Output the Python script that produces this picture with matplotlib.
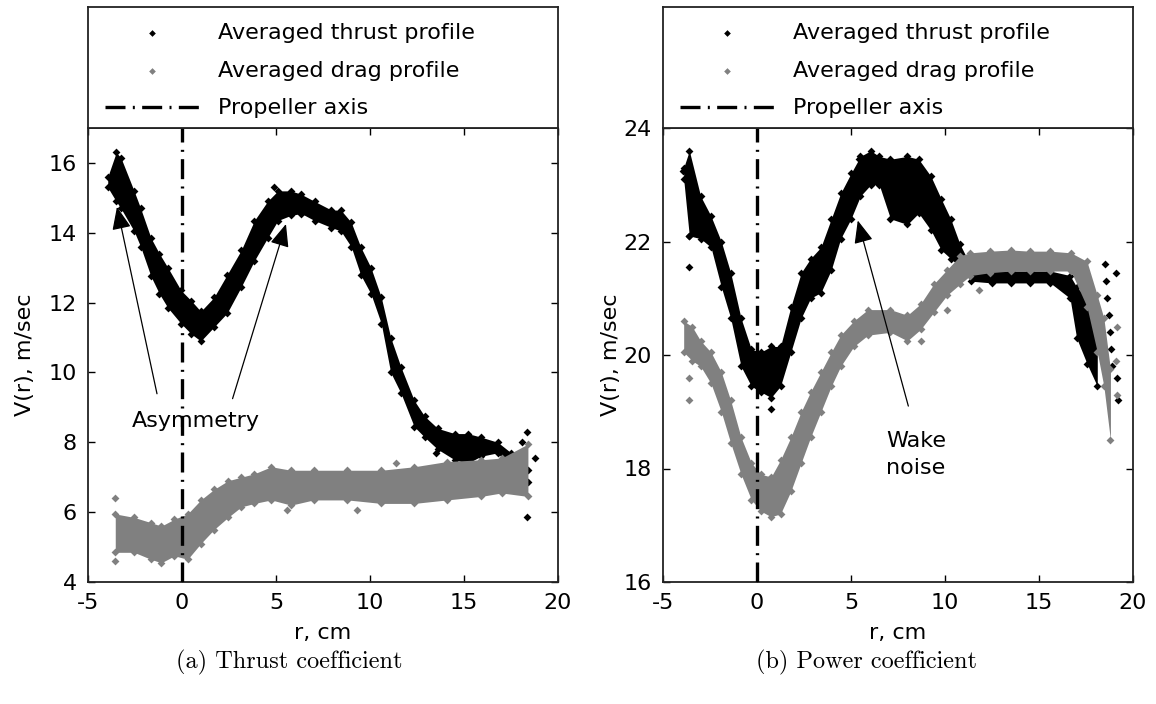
import matplotlib
matplotlib.use("Agg")
import matplotlib.pyplot as plt

# ---- data ----
# (a) thrust coefficient: band of the averaged thrust profile (lower / upper edge)
a_thrust_r = [-3.95, -3.5, -3.25, -2.55, -2.2, -1.65, -1.2, -0.75, -0.05, 0.5, 1.0, 1.7, 2.4, 3.15,
              3.85, 4.55, 5.1, 5.8, 6.35, 7.05, 7.95, 8.45, 9.0, 9.5, 10.05, 10.6, 11.1, 11.65,
              12.35, 12.9, 13.6, 14.5, 15.2, 15.9, 16.8, 17.5, 18.05]
a_thrust_lo = [15.3, 14.9, 14.7, 14.05, 13.6, 12.75, 12.25, 11.85, 11.4, 11.1, 10.9, 11.3, 11.7, 12.45,
               13.2, 13.85, 14.35, 14.5, 14.55, 14.35, 14.15, 14.05, 13.6, 12.8, 12.25, 11.4, 10.0, 9.4,
               8.45, 8.15, 7.8, 7.5, 7.4, 7.6, 7.7, 7.2, 7.4]
a_thrust_hi = [15.6, 16.3, 16.15, 15.2, 14.7, 13.85, 13.4, 13.0, 12.35, 12.05, 11.75, 12.15, 12.8, 13.5,
               14.35, 14.9, 15.2, 15.2, 15.1, 14.9, 14.65, 14.65, 14.3, 13.6, 13.0, 12.15, 11.0, 10.15,
               9.2, 8.75, 8.4, 8.25, 8.25, 8.15, 8.0, 7.7, 7.7]
a_thrust_out_r = [18.35, 18.1, 18.4, 18.4, 18.35, 18.8, 13.5, 4.9]
a_thrust_out_v = [8.3, 8.0, 7.2, 6.85, 5.85, 7.55, 7.7, 15.3]

a_drag_r = [-3.55, -2.55, -1.65, -1.1, -0.4, 0.3, 1.0, 1.7, 2.45, 3.15, 3.85, 4.75, 5.8, 7.0, 8.8,
            10.6, 12.35, 14.1, 15.9, 17.0, 18.4]
a_drag_lo = [4.85, 4.85, 4.65, 4.55, 4.75, 4.65, 5.1, 5.5, 5.85, 6.15, 6.25, 6.35, 6.2, 6.35, 6.35,
             6.25, 6.25, 6.35, 6.45, 6.55, 6.45]
a_drag_hi = [5.95, 5.85, 5.7, 5.6, 5.8, 5.95, 6.35, 6.65, 6.9, 7.0, 7.1, 7.3, 7.2, 7.2, 7.2,
             7.2, 7.3, 7.45, 7.5, 7.55, 7.95]
a_drag_out_r = [-3.55, -3.55, 5.6, 9.3, 11.4]
a_drag_out_v = [6.4, 4.6, 6.05, 6.05, 7.4]

# (b) power coefficient
b_thrust_r = [-3.9, -3.6, -3.0, -2.45, -1.9, -1.4, -0.85, -0.3, 0.2, 0.75, 1.25, 1.8, 2.35, 2.85,
              3.4, 3.95, 4.45, 5.0, 5.5, 6.05, 6.5, 7.1, 8.0, 8.6, 9.25, 9.8, 10.3, 10.8, 11.4,
              12.5, 13.5, 14.5, 15.6, 16.65, 17.0, 17.55, 18.1]
b_thrust_lo = [23.1, 22.1, 22.05, 21.9, 21.2, 20.65, 19.8, 19.45, 19.35, 19.25, 19.45, 20.05, 20.65, 21.0,
               21.1, 21.5, 22.05, 22.4, 22.8, 23.0, 23.0, 22.4, 22.3, 22.5, 22.2, 21.85, 21.7, 21.55, 21.3,
               21.27, 21.27, 21.27, 21.27, 21.0, 20.3, 19.85, 19.45]
b_thrust_hi = [23.3, 23.6, 22.8, 22.45, 22.0, 21.45, 20.65, 20.1, 20.05, 20.15, 20.15, 20.85, 21.45, 21.7,
               21.9, 22.4, 22.85, 23.2, 23.5, 23.6, 23.5, 23.45, 23.5, 23.45, 23.15, 22.75, 22.4, 21.95, 21.55,
               21.48, 21.48, 21.48, 21.48, 21.4, 21.2, 21.0, 20.5]
b_thrust_out_r = [-3.6, -3.6, -3.95, 0.75, 5.45, 18.5, 18.55, 18.6, 18.7, 18.8, 18.85, 18.9,
                  19.1, 19.15, 19.2]
b_thrust_out_v = [21.55, 22.1, 23.25, 19.05, 23.45, 21.6, 21.3, 21.0, 20.7, 20.4, 20.1, 19.8,
                  21.45, 19.6, 19.2]

b_drag_r = [-3.9, -3.45, -3.0, -2.45, -1.9, -1.4, -0.85, -0.3, 0.2, 0.75, 1.25, 1.8, 2.35, 2.85,
            3.4, 3.95, 4.45, 5.15, 5.9, 7.1, 8.0, 8.7, 9.4, 10.1, 10.8, 11.35, 12.4, 13.5, 14.5,
            15.6, 16.7, 17.55, 18.1, 18.45, 18.8]
b_drag_lo = [20.05, 19.9, 19.8, 19.5, 19.0, 18.45, 17.9, 17.45, 17.25, 17.15, 17.2, 17.6, 18.1, 18.55,
             19.0, 19.45, 19.8, 20.15, 20.35, 20.4, 20.25, 20.45, 20.75, 21.05, 21.25, 21.4, 21.45, 21.48, 21.48,
             21.48, 21.48, 20.85, 20.05, 19.45, 18.5]
b_drag_hi = [20.6, 20.5, 20.25, 20.05, 19.7, 19.2, 18.55, 18.1, 17.9, 17.85, 18.15, 18.55, 19.0, 19.35,
             19.7, 20.05, 20.35, 20.6, 20.8, 20.8, 20.7, 20.9, 21.25, 21.5, 21.75, 21.8, 21.83, 21.85, 21.83,
             21.83, 21.8, 21.65, 21.05, 20.65, 19.75]
b_drag_out_r = [-3.6, -3.6, 8.7, 10.1, 11.8, 19.15, 19.1, 19.15]
b_drag_out_v = [19.6, 19.2, 20.25, 20.8, 21.15, 20.5, 19.9, 19.3]

xticks = [-5, 0, 5, 10, 15, 20]
a_yticks = [4, 6, 8, 10, 12, 14, 16]
b_yticks = [16, 18, 20, 22, 24]

labels = ["Averaged thrust profile", "Averaged drag profile", "Propeller axis"]
captions = ["(a) Thrust coefficient", "(b) Power coefficient"]

plt.rcParams["font.family"] = "DejaVu Sans"
plt.rcParams["axes.unicode_minus"] = False

BLACK = "#000000"
GREY = "#808080"
FS = 16

fig = plt.figure(figsize=(11.56, 7.04), dpi=100)


def profile(ax, r, lo, hi, out_r, out_v, color, z, label):
    #filled band with diamonds on the edges so it looks like a cloud of points
    ax.fill_between(r, lo, hi, color=color, lw=0, zorder=z)
    ax.scatter(r, lo, s=16, marker="D", color=color, lw=0, zorder=z)
    ax.scatter(r, hi, s=16, marker="D", color=color, lw=0, zorder=z)
    sc = ax.scatter(out_r, out_v, s=16, marker="D", color=color, lw=0, zorder=z, label=label)
    return sc


def panel(left, data, yticks, ylim, ylabpad):
    ax = fig.add_axes([left / 1156, 122 / 704, 470 / 1156, 454 / 704])
    lax = fig.add_axes([left / 1156, 576 / 704, 470 / 1156, 121 / 704])
    lax.set_xticks([])
    lax.set_yticks([])
    for sp in list(ax.spines.values()) + list(lax.spines.values()):
        sp.set_linewidth(1.3)
        sp.set_color("#222222")

    h1 = profile(ax, *data[0], BLACK, 2, labels[0])
    h2 = profile(ax, *data[1], GREY, 3, labels[1])
    h3 = ax.axvline(0, color=BLACK, lw=2.4, linestyle=(0, (6, 2.2, 0.6, 2.2)), zorder=4,
                    label=labels[2])

    ax.set_xlim(-5, 20)
    ax.set_ylim(*ylim)
    ax.set_xticks(xticks)
    ax.set_yticks(yticks)
    ax.tick_params(direction="in", length=5, width=1, top=True, right=True,
                   labelsize=FS, pad=8)
    ax.set_xlabel("r, cm", fontsize=FS, labelpad=7)
    ax.set_ylabel("V(r), m/sec", fontsize=FS, labelpad=ylabpad)

    lax.legend([h1, h2, h3], labels, loc="center left", bbox_to_anchor=(0, 0.475),
               frameon=False, fontsize=FS, handlelength=4.3, handletextpad=0.8,
               borderaxespad=0, borderpad=0.75, labelspacing=0.8, markerscale=0.85,
               scatterpoints=1)
    return ax


axa = panel(88, [(a_thrust_r, a_thrust_lo, a_thrust_hi, a_thrust_out_r, a_thrust_out_v),
                 (a_drag_r, a_drag_lo, a_drag_hi, a_drag_out_r, a_drag_out_v)],
            a_yticks, (4, 17), 10)
axb = panel(663, [(b_thrust_r, b_thrust_lo, b_thrust_hi, b_thrust_out_r, b_thrust_out_v),
                  (b_drag_r, b_drag_lo, b_drag_hi, b_drag_out_r, b_drag_out_v)],
            b_yticks, (16, 24), 2)

#annotations
arrow = dict(arrowstyle="-|>,head_length=1.0,head_width=0.42", color=BLACK, lw=0.9,
             mutation_scale=14, shrinkA=0, shrinkB=0)
axa.annotate("", xy=(-3.46, 14.74), xytext=(-1.33, 9.39), arrowprops=arrow, zorder=6)
axa.annotate("", xy=(5.53, 14.25), xytext=(2.69, 9.25), arrowprops=arrow, zorder=6)
axa.text(0.75, 8.6, "Asymmetry", fontsize=FS, ha="center", va="center", zorder=6)

axb.annotate("", xy=(5.36, 22.37), xytext=(8.05, 19.1), arrowprops=arrow, zorder=6)
axb.text(6.85, 18.24, "Wake\nnoise", fontsize=FS, ha="left", va="center",
         linespacing=1.45, zorder=6)

#subfigure captions
fig.text(0.25, 1 - 662 / 704, captions[0], family="cmr10", fontsize=17.5,
         ha="center", va="center")
fig.text(0.75, 1 - 662 / 704, captions[1], family="cmr10", fontsize=17.5,
         ha="center", va="center")

fig.savefig("out.png", dpi=100)
